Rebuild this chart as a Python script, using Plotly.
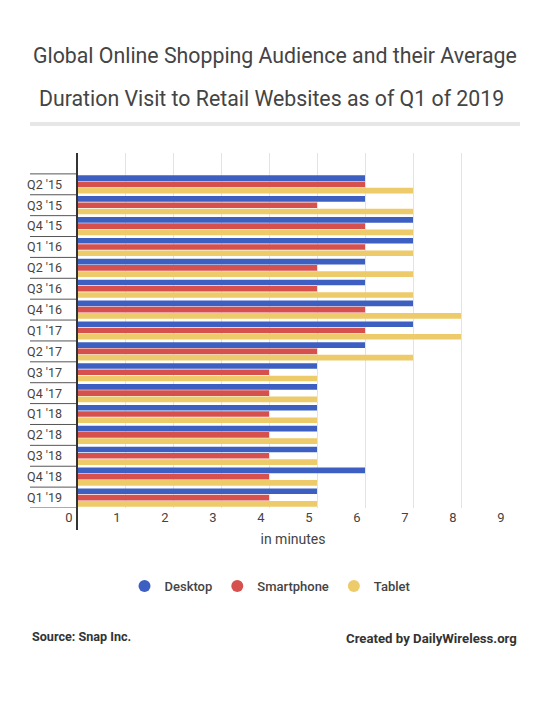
import plotly.graph_objects as go

categories = ["Q2 '15", "Q3 '15", "Q4 '15", "Q1 '16", "Q2 '16", "Q3 '16", "Q4 '16", "Q1 '17",
              "Q2 '17", "Q3 '17", "Q4 '17", "Q1 '18", "Q2 '18", "Q3 '18", "Q4 '18", "Q1 '19"]
desktop = [6, 6, 7, 7, 6, 6, 7, 7, 6, 5, 5, 5, 5, 5, 6, 5]
smartphone = [6, 5, 6, 6, 5, 5, 6, 6, 5, 4, 4, 4, 4, 4, 4, 4]
tablet = [7, 7, 7, 7, 7, 7, 8, 8, 7, 5, 5, 5, 5, 5, 5, 5]
series_names = ["Desktop", "Smartphone", "Tablet"]
colors = ["#3d5fc1", "#d6504e", "#eecb6a"]
x_ticks = list(range(0, 10))

W, H = 550, 702
L, R, T, B = 77, 41, 153, 194
PW = W - L - R
PH = H - T - B
FONT = "Roboto"
TXT = "#444444"

def px_x(px):
    return (px - L) / PW

def px_y(py):
    return (H - B - py) / PH

fig = go.Figure()
for name, vals, col in zip(series_names, [desktop, smartphone, tablet], colors):
    fig.add_trace(go.Bar(y=categories, x=vals, orientation="h", name=name,
                         marker=dict(color=col, line=dict(width=0)), showlegend=False,
                         hoverinfo="x+y+name"))
for name, col in zip(series_names, colors):
    fig.add_trace(go.Scatter(x=[None], y=[None], mode="markers", name=name,
                             marker=dict(color=col, size=15, symbol="circle"), showlegend=True))

n = len(categories)
shapes = []
for i in range(n + 1):
    shapes.append(dict(type="line", xref="paper", yref="y", x0=px_x(30), x1=0,
                       y0=i - 0.5, y1=i - 0.5, line=dict(color="#555555", width=1)))
shapes.append(dict(type="line", xref="paper", yref="paper", x0=0, x1=0,
                   y0=px_y(530), y1=1, line=dict(color="#333333", width=2)))
shapes.append(dict(type="rect", xref="paper", yref="paper", x0=px_x(30), x1=px_x(520),
                   y0=px_y(126), y1=px_y(122), fillcolor="#e6e6e6", line=dict(width=0)))

annotations = [
    dict(text="Global Online Shopping Audience and their Average", xref="paper", yref="paper",
         x=px_x(275), y=px_y(56), showarrow=False, xanchor="center", yanchor="middle",
         font=dict(family=FONT, size=21.3, color=TXT)),
    dict(text="Duration Visit to Retail Websites as of Q1 of 2019", xref="paper", yref="paper",
         x=px_x(271), y=px_y(98), showarrow=False, xanchor="center", yanchor="middle",
         font=dict(family=FONT, size=21.3, color=TXT)),
    dict(text="Source: Snap Inc.", xref="paper", yref="paper", x=px_x(30), y=px_y(636),
         showarrow=False, xanchor="left", yanchor="middle",
         font=dict(family=FONT, size=12.6, color="#333333", weight="bold")),
    dict(text="Created by DailyWireless.org", xref="paper", yref="paper", x=px_x(519), y=px_y(638),
         showarrow=False, xanchor="right", yanchor="middle",
         font=dict(family=FONT, size=13.2, color="#333333", weight="bold")),
]

fig.update_layout(
    width=W, height=H, margin=dict(l=L, r=R, t=T, b=B, pad=0),
    paper_bgcolor="white", plot_bgcolor="white",
    barmode="group", bargap=0.1, bargroupgap=0.1,
    shapes=shapes, annotations=annotations,
    font=dict(family=FONT, color=TXT),
    legend=dict(orientation="h", xref="container", yref="container",
                x=270 / W, xanchor="center", y=1 - 586 / H, yanchor="middle",
                font=dict(family=FONT, size=13, color=TXT, weight=500),
                itemsizing="constant"),
    xaxis=dict(range=[0, 9], tickvals=x_ticks, showgrid=True, gridcolor="#e3e3e3", gridwidth=1,
               zeroline=False, showline=False, ticks="", ticklabelshift=-8,
               tickfont=dict(family=FONT, size=13, color=TXT),
               title=dict(text="in minutes", font=dict(family=FONT, size=14, color=TXT), standoff=10)),
    yaxis=dict(type="category", categoryorder="array", categoryarray=categories,
               range=[n - 0.5, -1.5], showgrid=False, zeroline=False, showline=False, ticks="",
               ticklabelstandoff=14, tickfont=dict(family=FONT, size=12.5, color=TXT)),
)

fig.write_html("out.html")
